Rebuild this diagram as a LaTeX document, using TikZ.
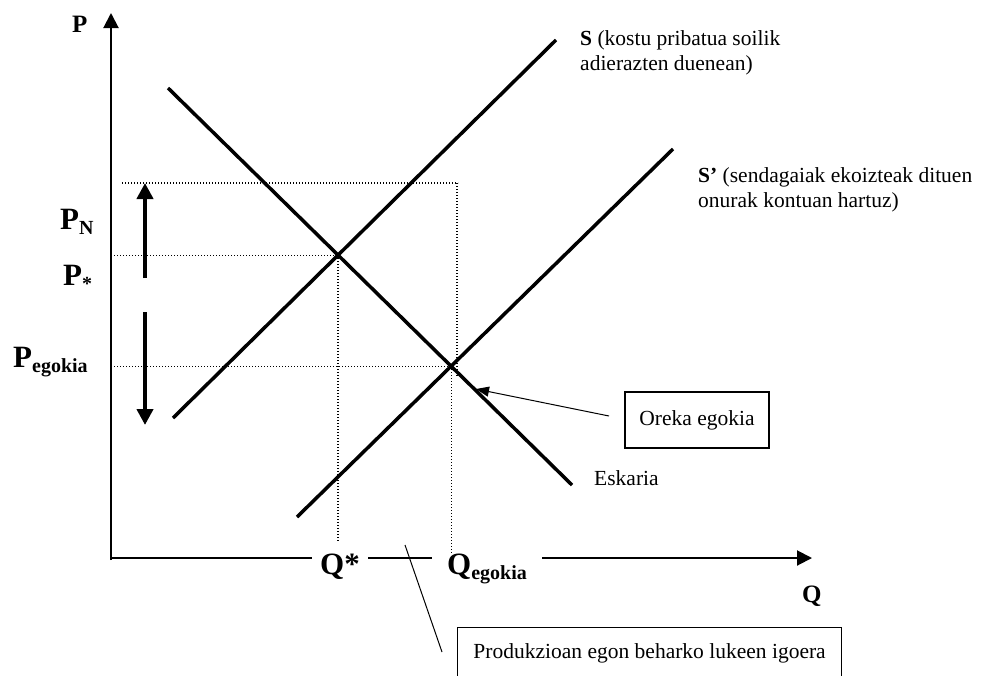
\documentclass[tikz,border=0pt]{standalone}
\usepackage{fontspec}
\setmainfont{Liberation Serif}
\usetikzlibrary{arrows.meta,calc}
\newcommand\mysub[2]{#1\raisebox{-5pt}{\fontsize{20}{20}\selectfont #2}}
\begin{document}
\begin{tikzpicture}[x=1pt,y=-1pt,
  curve/.style={line width=3.5pt},
  axisline/.style={line width=2pt,-{Triangle[length=15pt,width=15pt]}},
  guide/.style={line width=1.2pt,dash pattern=on 1.2pt off 1.8pt},
  bigarrow/.style={line width=4pt,-{Triangle[length=16pt,width=16pt]}},
  pointer/.style={line width=1pt},
  biglabel/.style={font=\fontsize{31}{31}\selectfont\bfseries,inner sep=0pt,anchor=base west},
  axislabel/.style={font=\fontsize{25}{25}\selectfont\bfseries,inner sep=0pt,anchor=base west},
  plainlabel/.style={font=\fontsize{21.5}{25}\selectfont,inner sep=0pt,anchor=base west,align=left},
  boxlabel/.style={draw,line width=1.2pt,font=\fontsize{21.5}{25}\selectfont}]
\useasboundingbox (0,0) rectangle (984,675);
\clip (0,0) rectangle (984,675);
% axes
\coordinate (O) at (111,558);
\coordinate (Ptop) at (111,13);
\coordinate (Qend) at (812,558);
\coordinate (Obot) at (111,560);
\draw[axisline] (Obot) -- (Ptop);
\draw[axisline] (O) -- (Qend);
% curves
\coordinate (d1) at (168,88);
\coordinate (d2) at (572,485);
\coordinate (s1) at (173,418);
\coordinate (s2) at (556,40);
\coordinate (t1) at (297,517);
\coordinate (t2) at (673,149);
\draw[curve] (d1) -- (d2);
\draw[curve] (s1) -- (s2);
\draw[curve] (t1) -- (t2);
\coordinate (E1) at (intersection of d1--d2 and s1--s2);
\coordinate (E2) at (intersection of d1--d2 and t1--t2);
% axis labels
\node[axislabel] (Plbl) at (72,32) {P};
\node[axislabel] (Qlbl) at (802,602) {Q};
\node[biglabel] (PN) at (60,229) {\mysub{P}{N}};
\node[biglabel] (Pstar) at (63,285) {\mysub{P}{*}};
\node[biglabel] (Peg) at (13,367) {\mysub{P}{egokia}};
\node[biglabel,fill=white,inner xsep=8pt,inner ysep=2pt] (Qstar) at (312,574) {Q*};
\node[biglabel,fill=white,inner xsep=15pt,inner ysep=2pt] (Qeg) at (432,574) {\mysub{Q}{egokia}};
% guides
\coordinate (gN1) at (122,183);
\coordinate (gN2) at (458,183);
\coordinate (gN3) at (457,183);
\coordinate (gN4) at (457,377);
\draw[guide] (gN1) -- (gN2);
\draw[guide] (gN3) -- (gN4);
\coordinate (g1) at (111,0);
\draw[guide] (g1 |- E1) -- (E1);
\coordinate (gq1) at (0,542);
\draw[guide] (E1) -- (E1 |- gq1);
\draw[guide] (g1 |- E2) -- (E2);
\coordinate (gq2) at (0,553);
\draw[guide] (E2) -- (E2 |- gq2);
% thick arrows
\coordinate (u1) at (145,278);
\coordinate (u2) at (145,183);
\coordinate (w1) at (145,312);
\coordinate (w2) at (145,425);
\draw[bigarrow] (u1) -- (u2);
\draw[bigarrow] (w1) -- (w2);
% texts
\node[plainlabel] (Slbl) at (580,70) {\textbf{S} (kostu pribatua soilik\\adierazten duenean)};
\node[plainlabel] (S2lbl) at (698,207) {\textbf{S’} (sendagaiak ekoizteak dituen\\onurak kontuan hartuz)};
\node[plainlabel] (Dlbl) at (594,485) {Eskaria};
% boxes
\node[boxlabel,minimum width=144pt,minimum height=56pt] (oreka) at (697,420) {Oreka egokia};
\coordinate (or1) at (609,416);
\coordinate (or2) at (476,389);
\draw[pointer,-{Triangle[length=13pt,width=10pt]}] (or1) -- (or2);
\node[boxlabel,anchor=north west,minimum width=384pt,minimum height=52pt] (prod) at (457,627) {Produkzioan egon beharko lukeen igoera};
\coordinate (pl1) at (442,652);
\coordinate (pl2) at (405,545);
\draw[pointer] (pl1) -- (pl2);
\end{tikzpicture}
\end{document}
